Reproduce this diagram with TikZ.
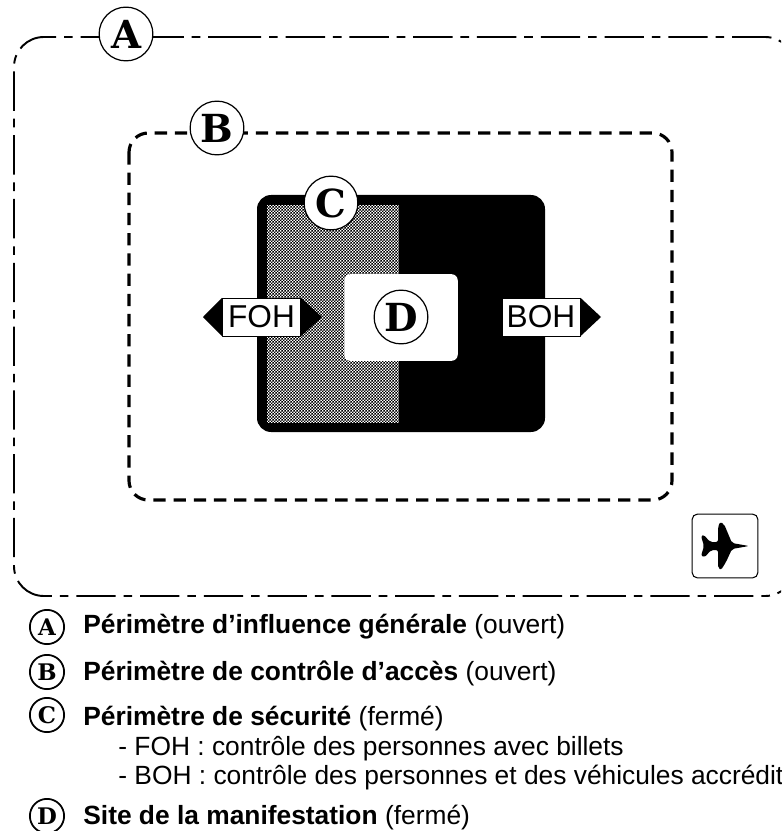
\documentclass[tikz,border=0pt]{standalone}
\usepackage{fontspec}
\newfontfamily\arialfont{Liberation Sans}
\newfontfamily\letterfont{DejaVu Serif}
\usetikzlibrary{patterns,calc,positioning}
\pgfdeclarepatternformonly{fineChecker}{\pgfpointorigin}{\pgfpoint{1.7pt}{1.7pt}}{\pgfpoint{1.7pt}{1.7pt}}{
	\pgfpathrectangle{\pgfpointorigin}{\pgfpoint{0.85pt}{0.85pt}}
	\pgfpathrectangle{\pgfpoint{0.85pt}{0.85pt}}{\pgfpoint{0.85pt}{0.85pt}}
	\pgfusepath{fill}}
\tikzset{
	bigLetter/.style={circle,draw,fill=white,line width=0.7pt,inner sep=0pt,minimum size=30.6pt,font=\letterfont\fontsize{22}{22}\selectfont\bfseries},
	smallLetter/.style={circle,draw,line width=1pt,inner sep=0pt,minimum size=19.5pt,font=\letterfont\fontsize{13}{13}\selectfont\bfseries},
	tagBox/.style={draw=black,fill=white,line width=0.4pt,inner sep=0pt,minimum width=44.5pt,minimum height=21.5pt,font=\arialfont\fontsize{18}{18}\selectfont},
	legendText/.style={anchor=base west,inner sep=0pt,font=\arialfont\fontsize{15}{17}\selectfont}
}
\begin{document}
\begin{tikzpicture}[x=0.02cm,y=-0.02cm,line join=round]
		\clip (0,0) rectangle (781,831);
		\fill[white] (0,0) rectangle (781,831);
		% outer perimeters
		\draw[line width=1.1pt,dash pattern=on 22.4pt off 4.5pt on 4.9pt off 4.5pt,rounded corners=17pt] (192,37) -- (795,37) -- (795,596) -- (14,596) -- (14,37) -- cycle;
		\draw[line width=1.8pt,dash pattern=on 7pt off 4.5pt,rounded corners=11pt] (129,133) rectangle (672,500);
		% security perimeter
		\fill[rounded corners=8pt] (257,195) rectangle (545,432);
		\fill[white] (267,205) rectangle (399,423);
		\fill[pattern=fineChecker] (267,205) rectangle (399,423);
		\node[fill=white,rounded corners=3.5pt,inner sep=0pt,minimum width=64.6pt,minimum height=49.3pt] (site) at (401,317.5) {};
		% tags
		\node[tagBox] (foh) at (261.5,317) {FOH};
		\node[tagBox] (boh) at (541,317) {BOH};
		\fill (foh.north west) -- (203,317) -- (foh.south west) -- cycle;
		\fill (foh.north east) -- (322,317) -- (foh.south east) -- cycle;
		\fill (boh.north east) -- (601,317) -- (boh.south east) -- cycle;
		% letters
		\foreach \i/\x/\y in {A/126/34,B/217/128,C/331/203,D/401/317}{\node[bigLetter] (big\i) at (\x,\y) {\i};}
		% plane
		\node[draw,line width=0.6pt,rounded corners=3pt,inner sep=0pt,minimum width=37.4pt,minimum height=36.3pt] (planeBox) at (725,546) {};
		\fill[rounded corners=1.2pt] (749,546) -- (732,543) -- (724,524) -- (720,522) -- (718,527) -- (718,542) -- (710,542) -- (704,535) -- (701,536) -- (704,546) -- (701,556) -- (705,557) -- (711,550) -- (718,550) -- (718,568) -- (721,570) -- (726,562) -- (732,549) -- cycle;
		% legend
		\foreach \i/\y in {A/627,B/672,C/715,D/816}{\node[smallLetter] (leg\i) at (47,\y) {\i};}
		\node[legendText] (txtA) at (83,633) {\textbf{Périmètre d’influence générale} (ouvert)};
		\node[legendText] (txtB) at (83,680) {\textbf{Périmètre de contrôle d’accès} (ouvert)};
		\node[legendText] (txtC) at (83,725) {\textbf{Périmètre de sécurité} (fermé)};
		\node[legendText] (txtF) at (118,755) {- FOH : contrôle des personnes avec billets};
		\node[legendText] (txtG) at (118,784) {- BOH : contrôle des personnes et des véhicules accrédit};
		\node[legendText] (txtD) at (83,824) {\textbf{Site de la manifestation} (fermé)};
		\end{tikzpicture}
\end{document}
